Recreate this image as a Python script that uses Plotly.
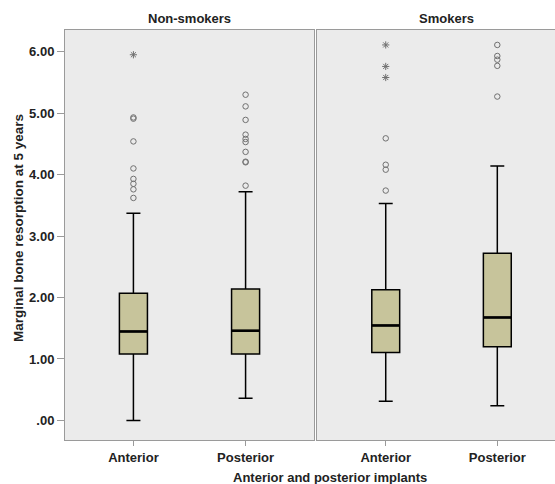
import plotly.graph_objects as go

groups = ["Non-smokers", "Smokers"]
positions = ["Anterior", "Posterior"]

# box statistics per group: [Anterior, Posterior]
ns_lo = [0.00, 0.36]
ns_q1 = [1.08, 1.08]
ns_med = [1.447, 1.46]
ns_q3 = [2.07, 2.14]
ns_hi = [3.37, 3.72]

sm_lo = [0.31, 0.24]
sm_q1 = [1.105, 1.20]
sm_med = [1.545, 1.675]
sm_q3 = [2.125, 2.72]
sm_hi = [3.53, 4.14]

# outliers (circles) and extremes (stars)
ns_out = [[4.93, 4.91, 4.54, 4.10, 3.93, 3.85, 3.76, 3.62],
          [5.30, 5.11, 4.89, 4.65, 4.58, 4.53, 4.37, 4.21, 4.20, 3.82]]
ns_ext = [[5.95], []]
sm_out = [[4.59, 4.16, 4.08, 3.74],
          [6.11, 5.93, 5.87, 5.77, 5.27]]
sm_ext = [[6.11, 5.76, 5.58], []]

yticks = [0, 1, 2, 3, 4, 5, 6]
yticktext = [".00", "1.00", "2.00", "3.00", "4.00", "5.00", "6.00"]

FILL = "#c7c49b"
GRAY = "#707070"
FRAME = "#9a9a9a"
BOXW = 0.25
FONT = "Arial, Liberation Sans, sans-serif"

fig = go.Figure()

panels = [
    ("x", "y", ns_lo, ns_q1, ns_med, ns_q3, ns_hi, ns_out, ns_ext),
    ("x2", "y2", sm_lo, sm_q1, sm_med, sm_q3, sm_hi, sm_out, sm_ext),
]
xs = list(range(len(positions)))
for xa, ya, lo, q1, med, q3, hi, outs, exts in panels:
    fig.add_trace(go.Box(
        x=xs, lowerfence=lo, q1=q1, median=med, q3=q3, upperfence=hi,
        width=BOXW, whiskerwidth=0.5, fillcolor=FILL,
        line=dict(color="black", width=1.5), boxpoints=False,
        xaxis=xa, yaxis=ya, showlegend=False, hoverinfo="skip"))
    # thicker median lines
    for i, m in enumerate(med):
        fig.add_trace(go.Scatter(
            x=[i - BOXW / 2, i + BOXW / 2], y=[m, m], mode="lines",
            line=dict(color="black", width=2.6), xaxis=xa, yaxis=ya,
            showlegend=False, hoverinfo="skip"))
    for i, o in enumerate(outs):
        if o:
            fig.add_trace(go.Scatter(
                x=[i] * len(o), y=o, mode="markers",
                marker=dict(symbol="circle-open", size=5.5, color=GRAY,
                            line=dict(width=1, color=GRAY)),
                xaxis=xa, yaxis=ya, showlegend=False, hoverinfo="skip"))
    for i, e in enumerate(exts):
        if e:
            fig.add_trace(go.Scatter(
                x=[i] * len(e), y=e, mode="markers",
                marker=dict(symbol="asterisk-open", size=6, color=GRAY,
                            line=dict(width=1, color=GRAY)),
                xaxis=xa, yaxis=ya, showlegend=False, hoverinfo="skip"))

W, H = 555, 484
ML, MR, MT, MB = 65, 0, 30, 44
PW = W - ML - MR
left_end = (314 - ML) / PW
right_start = (317 - ML) / PW

tickfont = dict(family=FONT, size=13, color="#222222", weight="bold")
yr = [-0.319, 6.353]

xcommon = dict(tickmode="array", tickvals=xs, ticktext=positions,
               showgrid=False, zeroline=False, showline=True, mirror=True,
               linecolor=FRAME, linewidth=1, ticks="outside", ticklen=5,
               tickcolor=FRAME, tickfont=tickfont, fixedrange=True)

titlefont = dict(family=FONT, size=13, color="#222222", weight="bold")

fig.update_layout(
    width=W, height=H,
    margin=dict(l=ML, r=MR, t=MT, b=MB),
    paper_bgcolor="white", plot_bgcolor="#ebebeb",
    font=dict(family=FONT),
    xaxis=dict(domain=[0, left_end], range=[-0.61, 1.61], anchor="y", **xcommon),
    xaxis2=dict(domain=[right_start, 1], range=[-0.616, 1.517], anchor="y2", **xcommon),
    yaxis=dict(range=yr, tickmode="array", tickvals=yticks, ticktext=yticktext,
               showgrid=False, zeroline=False, showline=True, mirror=True,
               linecolor=FRAME, linewidth=1, ticks="outside", ticklen=7,
               tickcolor=FRAME, tickfont=tickfont, anchor="x"),
    yaxis2=dict(range=yr, showticklabels=False, showgrid=False, zeroline=False,
                showline=True, mirror=False, linecolor=FRAME, linewidth=1,
                ticks="", anchor="x2", matches="y"),
    annotations=[
        dict(text="Non-smokers", xref="paper", yref="paper",
             x=(0 + left_end) / 2, y=1, yshift=12, showarrow=False,
             xanchor="center", yanchor="middle", font=titlefont),
        dict(text="Smokers", xref="paper", yref="paper",
             x=((317 + 575) / 2 - ML) / PW, y=1, yshift=12, showarrow=False,
             xanchor="center", yanchor="middle", font=titlefont),
        dict(text="Anterior and posterior implants", xref="paper", yref="paper",
             x=(330 - ML) / PW, y=0, yshift=-37, showarrow=False,
             xanchor="center", yanchor="middle", font=titlefont),
        dict(text="Marginal bone resorption at 5 years", xref="paper", yref="paper",
             x=0, xshift=-47, y=(440 - 228) / (440 - 30), textangle=-90, showarrow=False,
             xanchor="center", yanchor="middle",
             font=dict(family=FONT, size=13.5, color="#222222", weight="bold")),
    ],
)

fig.write_html("out.html", config={"displayModeBar": False},
               post_script="document.body.style.margin='0';document.body.style.overflow='hidden';")
